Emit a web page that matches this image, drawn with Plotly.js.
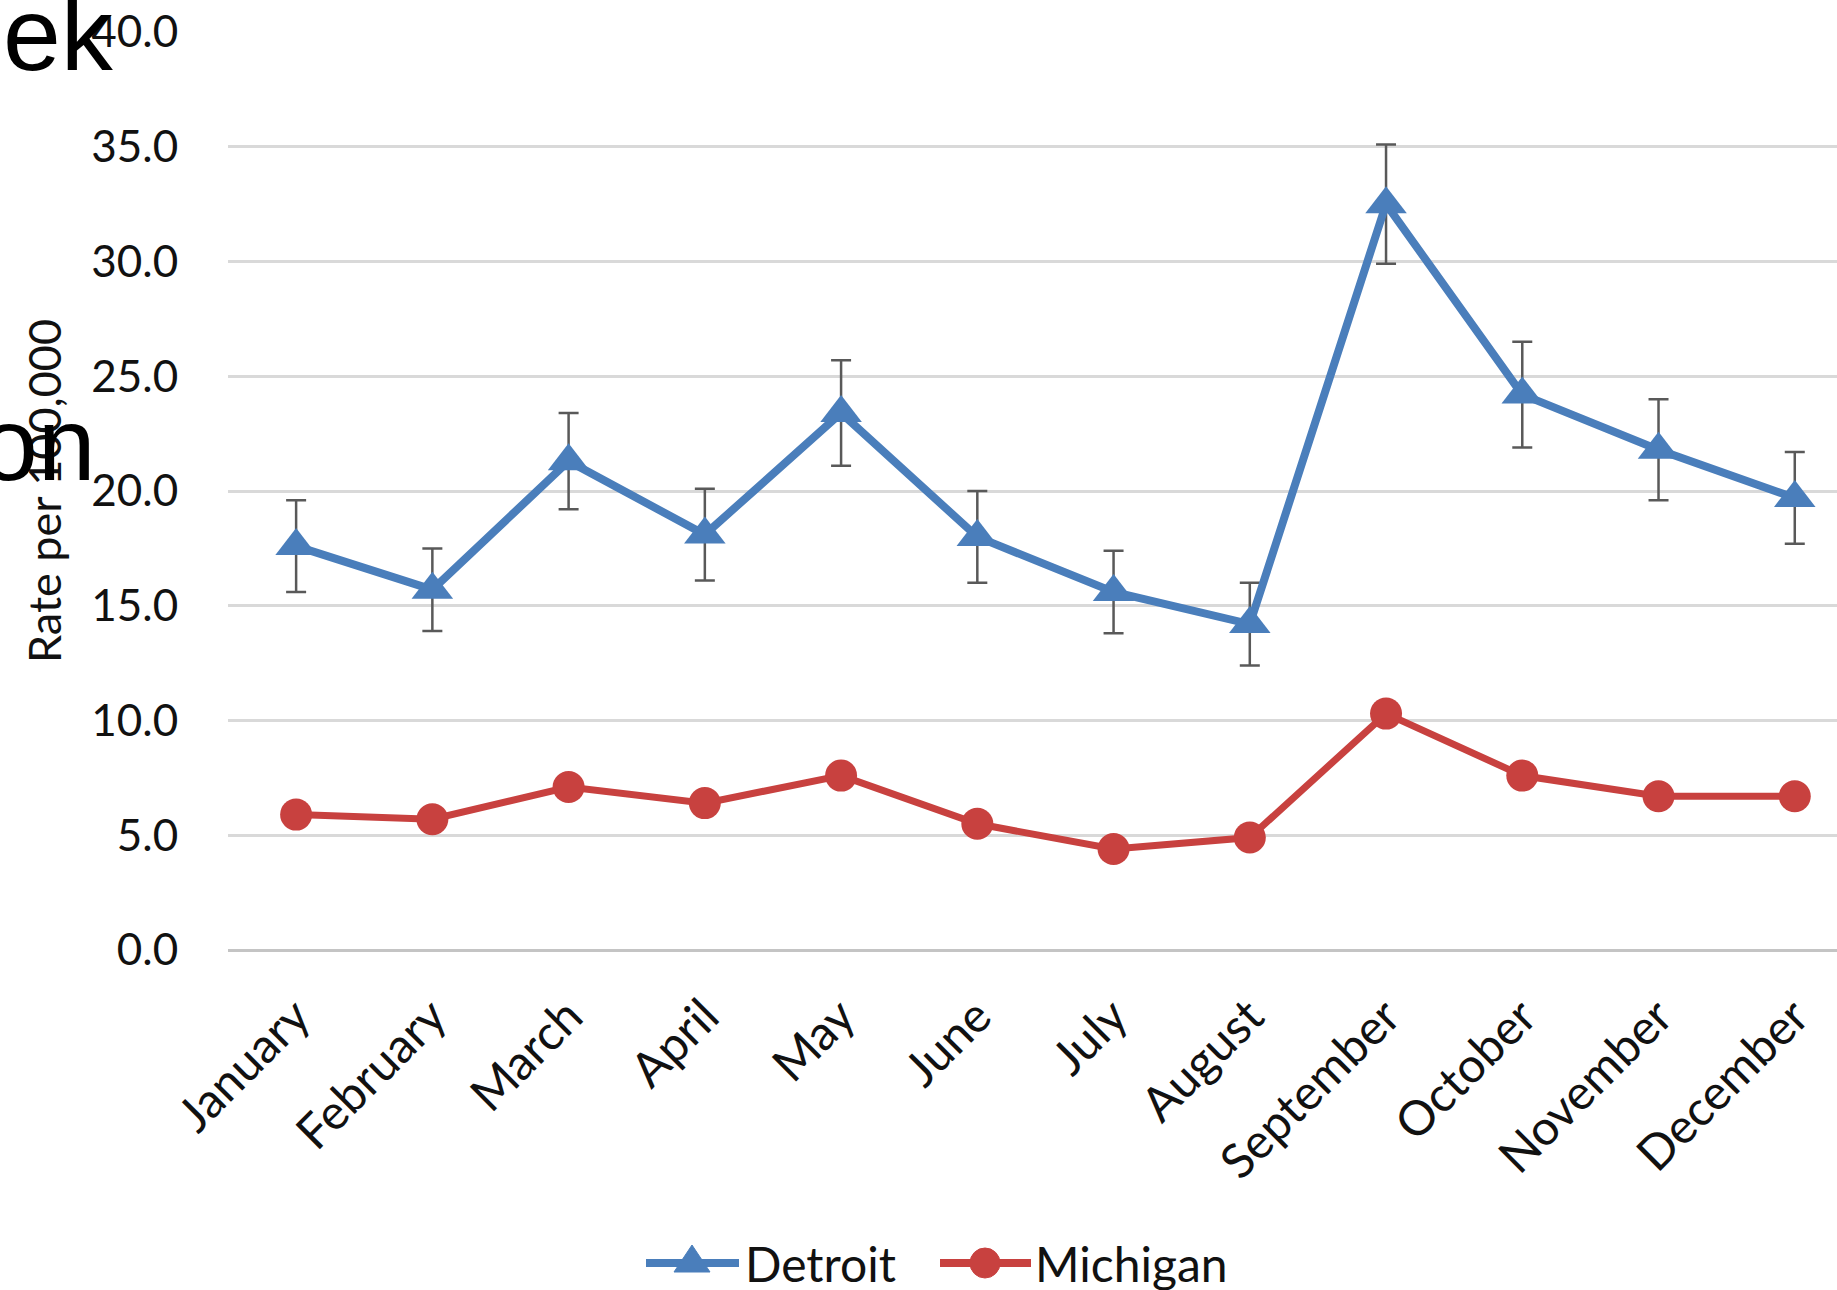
<!DOCTYPE html>
<html>
<head>
<meta charset="utf-8">
<script src="https://cdn.plot.ly/plotly-3.0.1.min.js"></script>
<style>
html,body{margin:0;padding:0;background:#fff;overflow:hidden;}
#chart{width:1837px;height:1290px;}
</style>
</head>
<body>
<div id="chart"></div>
<script>
const months = ["January","February","March","April","May","June","July","August","September","October","November","December"];
const detroit = [17.6, 15.7, 21.3, 18.1, 23.4, 18.0, 15.6, 14.2, 32.5, 24.2, 21.8, 19.7];
const detroitErr = [2.0, 1.8, 2.1, 2.0, 2.3, 2.0, 1.8, 1.8, 2.6, 2.3, 2.2, 2.0];
const michigan = [5.9, 5.7, 7.1, 6.4, 7.6, 5.5, 4.4, 4.9, 10.3, 7.6, 6.7, 6.7];
const yTicks = [0, 5, 10, 15, 20, 25, 30, 35, 40];
const yTickText = ["0.0","5.0","10.0","15.0","20.0","25.0","30.0","35.0","40.0"];
const seriesNames = ["Detroit", "Michigan"];

const BLUE = "#4A7EBB";
const RED = "#C8413F";
const FONT = "Lato, 'Open Sans', sans-serif";
const ARIAL = "'Liberation Sans', Arial, sans-serif";

// plot area geometry (pixels) used to place legend / stray texts in paper coords
const PL = 228, PW = 1609, PT = 32, PH = 918;
const px = v => (v - PL) / PW;
const py = v => (PT + PH - v) / PH;

const traces = [
  {
    x: months, y: detroit, name: seriesNames[0], type: "scatter", mode: "lines+markers",
    line: {color: BLUE, width: 8},
    marker: {symbol: "triangle-up", size: 36, color: BLUE},
    error_y: {type: "data", array: detroitErr, visible: true, color: "#595959", thickness: 2.5, width: 10}
  },
  {
    x: months, y: michigan, name: seriesNames[1], type: "scatter", mode: "lines+markers",
    line: {color: RED, width: 7},
    marker: {symbol: "circle", size: 32, color: RED}
  }
];

const LEG_Y = 1263;
const shapes = [
  {type: "line", xref: "paper", yref: "paper", x0: px(646), x1: px(739), y0: py(LEG_Y), y1: py(LEG_Y), line: {color: BLUE, width: 8}},
  {type: "path", xref: "paper", yref: "paper", xsizemode: "pixel", ysizemode: "pixel", xanchor: px(692), yanchor: py(LEG_Y),
   path: "M-18,-9 L18,-9 L0,18 Z", fillcolor: BLUE, line: {color: BLUE, width: 1}},
  {type: "line", xref: "paper", yref: "paper", x0: px(940), x1: px(1031), y0: py(LEG_Y), y1: py(LEG_Y), line: {color: RED, width: 8}},
  {type: "circle", xref: "paper", yref: "paper", xsizemode: "pixel", ysizemode: "pixel", xanchor: px(985), yanchor: py(LEG_Y),
   x0: -15, x1: 15, y0: -15, y1: 15, fillcolor: RED, line: {color: RED, width: 1}}
];

const layout = {
  width: 1837, height: 1290,
  margin: {l: PL, r: 0, t: PT, b: 1290 - PT - PH},
  paper_bgcolor: "#fff", plot_bgcolor: "#fff",
  showlegend: false,
  xaxis: {
    type: "category", range: [-0.5, 11.31], automargin: false,
    showgrid: false, zeroline: false, showline: false,
    tickangle: -45, ticks: "outside", ticklen: 18, tickcolor: "rgba(0,0,0,0)",
    tickfont: {family: FONT, size: 48, color: "#111"}
  },
  yaxis: {
    range: [0, 40], tickvals: yTicks, ticktext: yTickText, automargin: false,
    showgrid: true, gridcolor: "#d9d9d9", gridwidth: 3,
    zeroline: true, zerolinecolor: "#c4c4c4", zerolinewidth: 3,
    showline: false, ticks: "outside", ticklen: 40, tickcolor: "rgba(0,0,0,0)",
    tickfont: {family: FONT, size: 44, color: "#111"},
    title: {text: "Rate per 100,000", standoff: 15, font: {family: FONT, size: 45, color: "#111"}}
  },
  shapes: shapes,
  annotations: [
    {xref: "paper", yref: "paper", x: px(743), y: py(LEG_Y), xanchor: "left", yanchor: "middle",
     text: seriesNames[0], showarrow: false, font: {family: FONT, size: 48, color: "#111"}},
    {xref: "paper", yref: "paper", x: px(1033), y: py(LEG_Y), xanchor: "left", yanchor: "middle",
     text: seriesNames[1], showarrow: false, font: {family: FONT, size: 48, color: "#111"}},
    {xref: "paper", yref: "paper", x: px(116), y: py(34), xanchor: "right", yanchor: "middle",
     text: "ek", showarrow: false, font: {family: ARIAL, size: 104, color: "#000"}},
    {xref: "paper", yref: "paper", x: px(98), y: py(444), xanchor: "right", yanchor: "middle",
     text: "on", showarrow: false, font: {family: ARIAL, size: 104, color: "#000"}}
  ]
};

Plotly.newPlot("chart", traces, layout, {displayModeBar: false, staticPlot: true});
</script>
</body>
</html>
